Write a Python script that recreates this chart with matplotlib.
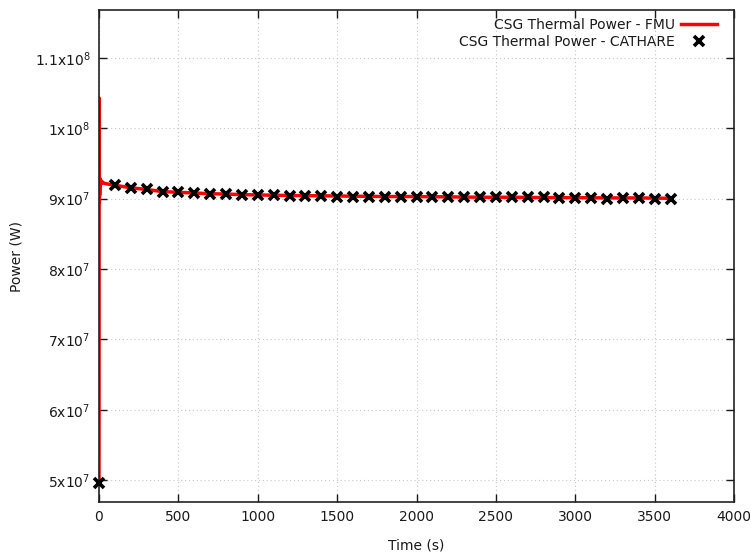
import matplotlib
matplotlib.use("Agg")
import matplotlib.pyplot as plt

# FMU series (time s, power W)
fmu_time = [0, 0.5, 1, 2, 3, 4, 5, 6, 8, 10, 12, 15, 20, 30, 50, 100, 200, 300, 400, 500,
            600, 700, 800, 900, 1000, 1200, 1400, 1600, 1800, 2000, 2200, 2400, 2600,
            2800, 3000, 3200, 3400, 3600]
fmu_power = [4.97e7, 8.0e7, 1.043e8, 8.95e7, 9.30e7, 9.05e7, 9.28e7, 9.15e7, 9.27e7, 9.20e7,
             9.26e7, 9.22e7, 9.24e7, 9.22e7, 9.21e7, 9.19e7, 9.155e7, 9.13e7, 9.10e7, 9.09e7,
             9.08e7, 9.07e7, 9.065e7, 9.057e7, 9.052e7, 9.045e7, 9.04e7, 9.035e7, 9.03e7,
             9.03e7, 9.025e7, 9.02e7, 9.02e7, 9.015e7, 9.015e7, 9.01e7, 9.01e7, 9.005e7]

# CATHARE points
cat_time = [0, 100, 200, 300, 400, 500, 600, 700, 800, 900, 1000, 1100, 1200, 1300, 1400,
            1500, 1600, 1700, 1800, 1900, 2000, 2100, 2200, 2300, 2400, 2500, 2600, 2700,
            2800, 2900, 3000, 3100, 3200, 3300, 3400, 3500, 3600]
cat_power = [4.96e7, 9.19e7, 9.155e7, 9.13e7, 9.10e7, 9.09e7, 9.08e7, 9.07e7, 9.065e7,
             9.057e7, 9.052e7, 9.045e7, 9.04e7, 9.035e7, 9.035e7, 9.03e7, 9.03e7, 9.03e7,
             9.03e7, 9.025e7, 9.025e7, 9.025e7, 9.02e7, 9.02e7, 9.02e7, 9.02e7, 9.02e7,
             9.02e7, 9.02e7, 9.015e7, 9.015e7, 9.015e7, 9.0e7, 9.015e7, 9.01e7, 9.0e7, 9.0e7]

x_ticks = [0, 500, 1000, 1500, 2000, 2500, 3000, 3500, 4000]
y_ticks = [5e7, 6e7, 7e7, 8e7, 9e7, 1e8, 1.1e8]
y_labels = [r'5x10$^{7}$', r'6x10$^{7}$', r'7x10$^{7}$', r'8x10$^{7}$', r'9x10$^{7}$',
            r'1x10$^{8}$', r'1.1x10$^{8}$']

fig = plt.figure(figsize=(7.54, 5.56), dpi=100)
ax = fig.add_axes([99/754, 1-502/556, (734-99)/754, (502-10)/556])

ax.plot(fmu_time, fmu_power, color='#ff0000', lw=2.5, label='CSG Thermal Power - FMU', zorder=2)
ax.plot(cat_time, cat_power, ls='none', marker='x', color='black', ms=6.5, mew=2.6,
        label='CSG Thermal Power - CATHARE', zorder=3, clip_on=False)

ax.set_xlim(0, 4000)
ax.set_ylim(4.69e7, 1.168e8)
ax.set_xticks(x_ticks)
ax.set_xticklabels([str(t) for t in x_ticks])
ax.set_yticks(y_ticks)
ax.set_yticklabels(y_labels)
ax.tick_params(direction='in', top=True, right=True, length=6, width=1, labelsize=10,
               colors='#1a1a1a', pad=6)
ax.grid(True, color='#c8c8c8', ls=(0, (1, 2.5)), lw=0.8)
for s in ax.spines.values():
    s.set_color('#222222')
    s.set_linewidth(1.2)

ax.set_xlabel('Time (s)', fontsize=10, color='#1a1a1a', labelpad=10)
ax.set_ylabel('Power (W)', fontsize=10, color='#1a1a1a', labelpad=8)

leg = ax.legend(loc='upper right', frameon=False, markerfirst=False, fontsize=10,
                handlelength=2.6, handletextpad=0.4, borderaxespad=0.3, labelspacing=0.2,
                alignment='right', bbox_to_anchor=(0.988, 1.003))
for t in leg.get_texts():
    t.set_ha('right')
    t.set_color('#1a1a1a')

fig.savefig('out.png', dpi=100)
